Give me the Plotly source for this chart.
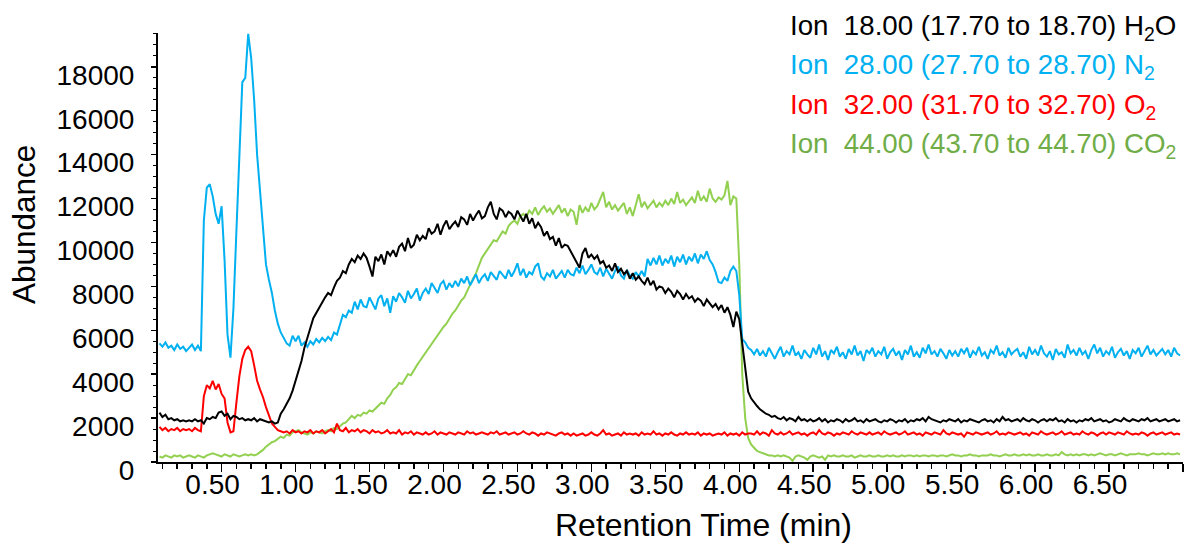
import plotly.graph_objects as go

# ---------------- data ----------------
N_POINTS = 346
TIME = [round(0.08 + 0.02 * i, 2) for i in range(N_POINTS)]  # sampling grid, min

H2O = [
    2250, 2050, 2150, 1950, 2000, 1900, 1950, 1850, 1900, 1850,
    1900, 1850, 1950, 1850, 1900, 1750, 2000, 1950, 2050, 2000,
    2250, 2300, 2100, 2200, 1950, 2100, 2050, 1950, 2000, 1900,
    1950, 1900, 2000, 1850, 1950, 1900, 1850, 1800, 1850, 1750,
    1800, 2200, 2400, 2650, 2900, 3250, 3700, 4150, 4600, 5200,
    5700, 6100, 6550, 6800, 7000, 7250, 7500, 7700, 7600, 7950,
    8250, 8400, 8700, 8600, 9000, 9250, 9100, 9400, 9250, 9500,
    9300, 8900, 8450, 9350, 9150, 9450, 9000, 9600, 9400, 9650,
    9350, 9800, 9950, 9600, 10200, 9750, 9900, 10350, 10100, 10300,
    10150, 10650, 10400, 10500, 10850, 10350, 10750, 11000, 10600, 10800,
    10950, 10700, 11150, 11050, 10800, 11300, 11000, 11250, 11450, 11100,
    11200, 11600, 11850, 11300, 11050, 11550, 11450, 11150, 11400, 11300,
    11050, 11450, 11200, 10950, 11300, 10850, 11100, 10650, 10900, 10700,
    10300, 10500, 10150, 10250, 9850, 10200, 9750, 9900, 9850, 9600,
    9300, 9100, 8850, 9500, 9750, 9300, 9450, 9250, 9400, 9050,
    9150, 8850, 8950, 8700, 9050, 8650, 8800, 8550, 8700, 8350,
    8600, 8300, 8450, 8250, 8100, 8400, 8050, 8250, 7850, 8000,
    7950, 7700, 7900, 7750, 7500, 7800, 7650, 7400, 7650, 7450,
    7550, 7300, 7450, 7350, 7100, 7400, 7200, 7050, 7200, 6950,
    7150, 6800, 7050, 6700, 6150, 6850, 6500, 5300, 4200, 3200,
    2900, 2700, 2550, 2400, 2300, 2200, 2150, 2050, 2100, 2000,
    1950, 2050, 1900, 2000, 1950, 1850, 2050, 1900, 1950, 1850,
    1950, 1850, 1900, 2000, 1850, 1950, 1800, 1900, 1850, 1950,
    1900, 1800, 1950, 1850, 1900, 2000, 1850, 1900, 1800, 1950,
    1850, 1900, 1950, 1850, 1800, 1900, 1850, 1950, 1900, 1800,
    1900, 1850, 1950, 1800, 1900, 1850, 1950, 1900, 2000, 1850,
    2050, 1950, 1900, 1850, 1800, 1900, 1850, 1950, 1900, 1850,
    1950, 1800, 1900, 1850, 1950, 1900, 1850, 1800, 1900, 1950,
    1850, 1900, 1800, 1950, 1850, 2050, 1900, 1950, 1850, 1900,
    1950, 1850, 2000, 1900, 1850, 1950, 1900, 1800, 1900, 1950,
    1850, 1950, 1900, 2000, 1850, 1900, 1800, 1950, 1850, 1900,
    1800, 1900, 1850, 1950, 1900, 2000, 1850, 1900, 1950, 1850,
    1900, 1800, 1850, 1950, 1900, 1850, 2000, 1900, 1850, 1950,
    1900, 1850, 1950, 1900, 2000, 1850, 1900, 1950, 1850, 1900,
    1950, 1850, 1900, 1950, 1850, 1900,
]

N2 = [
    5400, 5250, 5450, 5200, 5300, 5100, 5350, 5150, 5250, 5050,
    5200, 5350, 5100, 5300, 5050, 11000, 12500, 12650, 12100, 11300,
    10850, 11650, 9200, 5800, 4750, 7000, 10500, 13900, 17300, 17500,
    19500, 18400, 16500, 14000, 12300, 10700, 9000, 8300, 7700, 6900,
    6300, 5900, 5650, 5400, 5300, 5750, 5500, 5750, 5300, 5450,
    5250, 5500, 5350, 5600, 5450, 5650, 5500, 5700, 5550, 5900,
    5800, 6300, 6700, 6600, 6900, 6800, 7300, 6950, 7400, 7100,
    7050, 7500, 7250, 6950, 7450, 7600, 7100, 7450, 6800, 7550,
    7300, 7700, 7500, 7250, 7800, 7450, 7650, 7900, 7350, 7700,
    7900, 7650, 8150, 7950, 7700, 8100, 8250, 7850, 8150, 7950,
    8250, 8000, 8350, 8150, 8450, 8050, 8300, 8550, 8150, 8400,
    8550, 8250, 8650, 8450, 8300, 8700, 8500, 8350, 8750, 8450,
    8700, 9050, 8500, 8800, 8400, 8650, 8550, 8900, 9050, 8450,
    8300, 8600, 8450, 8750, 8350, 8550, 8700, 8400, 8750, 8550,
    8500, 8850, 8600, 8950, 8550, 8750, 9000, 8650, 8550, 8850,
    8450, 8800, 8550, 8350, 8700, 8900, 8500, 8350, 8750, 8500,
    8350, 8650, 8450, 8700, 8450, 9250, 8950, 9300, 9000, 9400,
    8950, 9250, 9050, 9400, 8900, 9350, 9100, 9450, 9000, 9350,
    9150, 9500, 9050, 9450, 9250, 9600, 9200, 9000, 8650, 8200,
    8150, 8400, 8250, 8700, 8900, 8700, 7600, 5600, 5450, 5200,
    5100, 4900, 5150, 4850, 5050, 4800, 5200, 4950, 4700, 5000,
    5250, 4800, 5050, 4900, 5300, 4850, 5000, 4700, 5100, 4900,
    4750, 5200, 4900, 5350, 4800, 5050, 4650, 5100, 4950, 5250,
    4800, 5000, 4700, 5150, 4900, 5300, 4850, 5050, 4600, 5100,
    4950, 5200, 4800, 5050, 4900, 5250, 4700, 5000, 5150, 4850,
    5050, 4650, 5100, 4900, 5300, 4800, 5000, 4750, 5200, 4950,
    5350, 4900, 5050, 4800, 5150, 4950, 4700, 5100, 4850, 5050,
    4800, 5150, 4950, 5200, 4750, 5050, 4900, 5250, 4850, 5000,
    4700, 5100, 4950, 5300, 4850, 5000, 4750, 5200, 4900, 5050,
    5150, 4800, 5000, 4700, 5250, 4900, 5100, 4850, 5300, 4950,
    4800, 5050, 4650, 5150, 4900, 5000, 4750, 5350, 4950, 5100,
    4850, 5200, 4900, 5050, 4700, 5100, 5350, 4950, 5200, 4800,
    5050, 4900, 5250, 4750, 5000, 5150, 4850, 5050, 4700, 5100,
    4950, 5200, 4800, 5050, 5300, 4900, 5100, 4850, 5000, 5150,
    4900, 5100, 4800, 5200, 4950, 4850,
]

O2 = [
    1600, 1450, 1550, 1400, 1500, 1450, 1550, 1400, 1500, 1450,
    1500, 1400, 1550, 1450, 1400, 3000, 3500, 3350, 3700, 3300,
    3550, 3100, 2900, 1800, 1350, 1400, 2700, 3900, 4700, 5100,
    5250, 5050, 4400, 3700, 3300, 2950, 2500, 2100, 1750, 1600,
    1450, 1400, 1350, 1400, 1300, 1450, 1350, 1400, 1300, 1400,
    1350, 1450, 1300, 1400, 1350, 1450, 1300, 1400, 1500, 1350,
    1750, 1450, 1400, 1550, 1350, 1450, 1400, 1500, 1350, 1450,
    1400, 1300, 1450, 1350, 1400, 1300, 1350, 1450, 1300, 1350,
    1300, 1450, 1250, 1350, 1300, 1400, 1250, 1350, 1300, 1250,
    1350, 1250, 1300, 1400, 1250, 1350, 1300, 1250, 1350, 1300,
    1250, 1350, 1300, 1250, 1400, 1300, 1350, 1250, 1300, 1350,
    1300, 1250, 1350, 1300, 1400, 1250, 1300, 1350, 1250, 1300,
    1350, 1250, 1300, 1400, 1300, 1250, 1350, 1300, 1200, 1300,
    1250, 1350, 1300, 1250, 1200, 1300, 1350, 1250, 1300, 1200,
    1300, 1200, 1250, 1300, 1200, 1250, 1350, 1250, 1200, 1300,
    1450, 1250, 1300, 1200, 1250, 1300, 1200, 1350, 1250, 1300,
    1250, 1300, 1200, 1350, 1250, 1300, 1250, 1400, 1250, 1300,
    1200, 1300, 1250, 1350, 1250, 1200, 1300, 1250, 1350, 1250,
    1300, 1250, 1350, 1200, 1300, 1250, 1300, 1200, 1250, 1300,
    1250, 1350, 1200, 1300, 1250, 1300, 1200, 1350, 1250, 1300,
    1300, 1250, 1400, 1250, 1350, 1300, 1200, 1450, 1300, 1250,
    1350, 1250, 1300, 1400, 1250, 1300, 1350, 1250, 1300, 1200,
    1300, 1350, 1250, 1450, 1300, 1250, 1350, 1300, 1200, 1300,
    1250, 1350, 1300, 1250, 1400, 1300, 1250, 1350, 1300, 1250,
    1350, 1250, 1300, 1350, 1250, 1400, 1300, 1250, 1300, 1350,
    1250, 1300, 1400, 1250, 1300, 1350, 1250, 1300, 1200, 1350,
    1300, 1250, 1350, 1300, 1250, 1450, 1300, 1250, 1350, 1300,
    1250, 1300, 1150, 1350, 1300, 1250, 1350, 1300, 1250, 1300,
    1350, 1250, 1300, 1400, 1250, 1300, 1250, 1350, 1300, 1250,
    1300, 1350, 1250, 1300, 1200, 1350, 1300, 1250, 1400, 1300,
    1250, 1300, 1350, 1250, 1300, 1400, 1250, 1300, 1350, 1250,
    1300, 1250, 1400, 1300, 1250, 1350, 1300, 1200, 1300, 1350,
    1250, 1350, 1300, 1250, 1350, 1300, 1250, 1400, 1300, 1250,
    1300, 1250, 1350, 1300, 1200, 1300, 1350, 1250, 1300, 1350,
    1250, 1300, 1350, 1250, 1300, 1250,
]

CO2 = [
    250, 200, 300, 250, 200, 300, 250, 300, 200, 250,
    300, 250, 200, 300, 250, 200, 300, 350, 400, 350,
    300, 250, 350, 300, 250, 350, 300, 250, 300, 350,
    300, 350, 300, 350, 450, 550, 700, 800, 900, 950,
    1050, 1150, 1100, 1250, 1200, 1350, 1400, 1450, 1350, 1300,
    1250, 1350, 1300, 1400, 1350, 1300, 1400, 1450, 1400, 1550,
    1500, 1650, 1750, 1800, 1950, 2100, 2000, 2150, 2100, 2250,
    2200, 2350, 2300, 2450, 2550, 2700, 2650, 2900, 3050, 3300,
    3400, 3600, 3550, 3800, 4000, 3950, 4200, 4400, 4600, 4800,
    5000, 5150, 5400, 5600, 5800, 5950, 6150, 6300, 6550, 6750,
    6900, 7150, 7350, 7500, 7800, 8100, 8350, 8600, 9000, 9300,
    9500, 9700, 9850, 10100, 10050, 10300, 10500, 10400, 10750, 10900,
    11000, 10850, 11200, 11300, 11150, 11450, 11300, 11600, 11250, 11500,
    11650, 11400, 11550, 11300, 11500, 11700, 11350, 11550, 11200, 11500,
    11400, 10800, 11700, 11350, 11600, 11400, 11800, 11500, 11650, 11950,
    12300, 11600, 11850, 11500, 11700, 11450, 11650, 11800, 11300, 11600,
    11200, 11750, 12200, 11600, 11850, 11550, 11700, 11900, 11600, 11800,
    11650, 11900, 11700, 12000, 11750, 12300, 11800, 11950, 11700, 11900,
    12050, 11800, 12350, 11900, 12100, 11850, 12450, 12000, 11850, 12050,
    11950, 12150, 12800, 11700, 12100, 12000, 9000, 4000, 2000, 1100,
    800, 650, 500, 450, 400, 350, 300, 300, 250, 300,
    250, 300, 250, 200, 50, 250, 300, 250, 200, 100,
    250, 300, 250, 200, 250, 100, 300, 250, 300, 250,
    250, 300, 250, 250, 300, 200, 250, 300, 250, 250,
    300, 250, 250, 300, 250, 250, 300, 250, 300, 250,
    250, 300, 250, 300, 300, 250, 300, 250, 300, 300,
    250, 300, 300, 250, 300, 300, 250, 300, 350, 300,
    300, 250, 300, 300, 350, 300, 300, 250, 300, 300,
    300, 350, 300, 300, 250, 300, 350, 300, 300, 350,
    300, 300, 350, 300, 350, 300, 300, 350, 300, 300,
    350, 300, 300, 350, 300, 450, 350, 300, 350, 300,
    350, 300, 350, 350, 300, 350, 300, 350, 400, 350,
    300, 350, 350, 300, 350, 400, 350, 300, 350, 350,
    350, 400, 350, 350, 300, 350, 400, 350, 350, 400,
    350, 400, 350, 350, 400, 350,
]

SERIES_NAMES = ["H2O", "N2", "O2", "CO2"]
LINE_COLORS = {"H2O": "#000000", "N2": "#00B0F0", "O2": "#FF0000", "CO2": "#92D050"}
LEGEND_COLORS = ["#000000", "#00B0F0", "#FF0000", "#70AD47"]
LEGEND_TEXTS = [
    "Ion\u00a0\u00a018.00 (17.70 to 18.70) H<sub>2</sub>O",
    "Ion\u00a0\u00a028.00 (27.70 to 28.70) N<sub>2</sub>",
    "Ion\u00a0\u00a032.00 (31.70 to 32.70) O<sub>2</sub>",
    "Ion\u00a0\u00a044.00 (43.70 to 44.70) CO<sub>2</sub>",
]
X_TITLE = "Retention Time (min)"
Y_TITLE = "Abundance"

FONT = "Liberation Sans, Arial, sans-serif"

fig = go.Figure()
series = {"H2O": H2O, "N2": N2, "O2": O2, "CO2": CO2}
for name in ["CO2", "O2", "N2", "H2O"]:
    fig.add_trace(go.Scatter(x=TIME, y=series[name], mode="lines", name=name,
                             line=dict(color=LINE_COLORS[name], width=2),
                             showlegend=False, hoverinfo="skip"))

W, H = 1184, 544
L, R, T, B = 158, 1, 33, 82
plot_h = H - T - B

def py(pix_y):
    return (H - B - pix_y) / plot_h

def px(pix_x):
    return (pix_x - L) / (W - L - R)

annotations = []
legend_y = [27, 66.5, 106, 145.5]
for txt, col, yy in zip(LEGEND_TEXTS, LEGEND_COLORS, legend_y):
    annotations.append(dict(
        text=txt, xref="paper", yref="paper", x=px(788), y=py(yy),
        xanchor="left", yanchor="middle", showarrow=False,
        font=dict(family=FONT, size=27.7, color=col)))

annotations.append(dict(text=X_TITLE, xref="paper", yref="paper",
                        x=px(703), y=py(525), xanchor="center", yanchor="middle",
                        showarrow=False, font=dict(family=FONT, size=32, color="#000")))
annotations.append(dict(text=Y_TITLE, xref="paper", yref="paper",
                        x=px(24), y=py(225), xanchor="center", yanchor="middle",
                        textangle=-90, showarrow=False,
                        font=dict(family=FONT, size=31.5, color="#000")))

fig.update_layout(
    template="none",
    width=W, height=H,
    margin=dict(l=L, r=R, t=T, b=B, pad=0, autoexpand=False),
    paper_bgcolor="white", plot_bgcolor="white",
    font=dict(family=FONT, size=28, color="#000"),
    annotations=annotations,
    showlegend=False,
    hovermode=False,
)

fig.update_xaxes(
    automargin=False,
    range=[0.07, 7.0], tick0=0.5, dtick=0.5, tickformat=".2f",
    showgrid=False, zeroline=False,
    showline=True, linecolor="#000", linewidth=2,
    ticks="outside", ticklen=8, tickwidth=1.5, tickcolor="#000",
    minor=dict(dtick=0.1, tick0=0.0, ticks="outside", ticklen=5,
               tickwidth=1.5, tickcolor="#000", showgrid=False),
    tickfont=dict(family=FONT, size=28, color="#000"),
    ticklabelshift=-9, ticklabelstandoff=-12,
)
fig.update_yaxes(
    automargin=False,
    range=[0, 19540], tick0=0, dtick=2000, tickformat="d",
    showgrid=False, zeroline=False,
    showline=True, linecolor="#000", linewidth=2,
    ticks="outside", ticklen=5, tickwidth=1.5, tickcolor="#000",
    minor=dict(dtick=500, ticks="outside", ticklen=3, tickwidth=1,
               tickcolor="#000", showgrid=False),
    tickfont=dict(family=FONT, size=28, color="#000"),
    ticklabelshift=8, ticklabelstandoff=11,
)

fig.write_html("out.html",
               config={"displayModeBar": False, "staticPlot": True},
               post_script="document.body.style.margin='0px';"
                           "document.body.style.padding='0px';")
